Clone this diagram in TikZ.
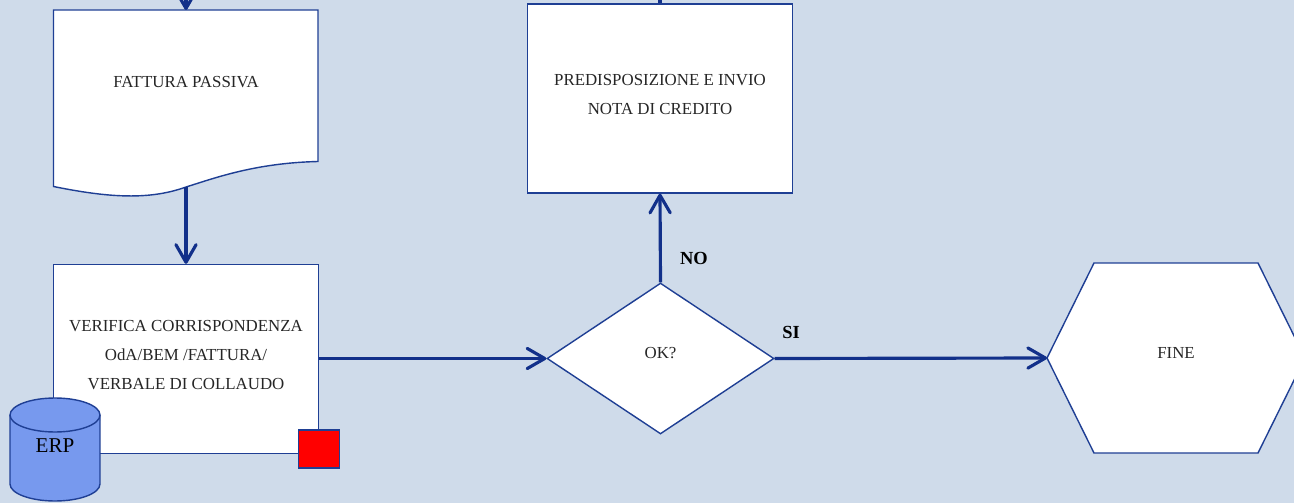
\documentclass[tikz,border=0pt]{standalone}
\usepackage{xcolor}
\usepackage{fontspec}
\setmainfont{Liberation Serif}
\usepackage{tikz}
\usetikzlibrary{shapes.geometric,arrows.meta}
\definecolor{bgblue}{HTML}{CFDBEA}
\definecolor{linkblue}{HTML}{12308A}
\definecolor{edgeblue}{HTML}{1F3F94}
\definecolor{erpblue}{HTML}{7799EE}
\tikzset{
	taskbox/.style={draw=edgeblue, fill=white, line width=0.8pt, minimum width=5.3cm, minimum height=3.78cm, inner sep=0pt},
	tasktext/.style={font=\fontsize{9.6}{16.6}\selectfont, align=center, text=black!85},
	link/.style={draw=linkblue, line width=1.8pt, -{Straight Barb[length=10pt,width=11.5pt,line width=1.8pt,round]}},
	answer/.style={font=\fontsize{10.5}{12}\selectfont\bfseries}
}
\begin{document}
\begin{tikzpicture}[x=0.02cm,y=-0.02cm]
			\useasboundingbox [fill=bgblue] (0,0) rectangle (1294,503);

			\coordinate (fatttop) at (186,10);
			\coordinate (fattbase) at (186,187);
			\coordinate (intop) at (186,-5);
			\coordinate (credtop) at (660,-5);
			\coordinate (fineleft) at (1047,358);

			% left column
			\filldraw [draw=edgeblue, fill=white, line width=0.8pt] (53.5,10) -- (318,10) -- (318,161.5)
				.. controls (255,163) and (215,178) .. (fattbase)
				.. controls (150,200) and (110,198) .. (53.5,186.5) -- cycle;
			\node [tasktext] (fatt) at (186,82) {FATTURA PASSIVA};
			\node [taskbox] (verifica) at (186,359) {};
			\node [tasktext] (verificatext) at (186,355) {VERIFICA CORRISPONDENZA\\OdA/BEM /FATTURA/\\VERBALE DI COLLAUDO};
			\filldraw [draw=edgeblue, fill=erpblue, line width=0.8pt] (10,415) -- (10,484) arc [start angle=180, end angle=360, x radius=0.9cm, y radius=0.34cm] -- (100,415) arc [start angle=0, end angle=180, x radius=0.9cm, y radius=0.34cm] -- cycle;
			\draw [draw=edgeblue, line width=0.8pt] (10,415) arc [start angle=180, end angle=360, x radius=0.9cm, y radius=0.34cm];
			\node [font=\fontsize{12}{14}\selectfont] (erp) at (55,446) {ERP};
			\node [draw=edgeblue, fill=red, line width=0.8pt, minimum width=0.82cm, minimum height=0.76cm, inner sep=0pt] (flag) at (319,449) {};

			% middle column
			\node [taskbox] (credito) at (660,98.5) {};
			\node [tasktext] (creditotext) at (660,94.5) {PREDISPOSIZIONE E INVIO\\NOTA DI CREDITO};
			\node [draw=edgeblue, fill=white, line width=0.8pt, shape=diamond, minimum width=4.54cm, minimum height=3.02cm, inner sep=0pt] (check) at (660.5,358.5) {};
			\node [tasktext] (checktext) at (660.5,353) {OK?};

			% end
			\filldraw [draw=edgeblue, fill=white, line width=0.8pt] (fineleft) -- (1094,263) -- (1258,263) -- (1305,358) -- (1258,453) -- (1094,453) -- cycle;
			\node [tasktext] (fine) at (1176,353) {FINE};

			\draw [link] (intop) -- (fatttop);
			\draw [link] (fattbase) -- (verifica.north);
			\draw [link] (verifica.east |- check.west) -- (check.west);
			\draw [link] (check.north) -- (credito.south);
			\draw [link] (check.east) -- (fineleft);
			\draw [draw=linkblue, line width=1.8pt] (credtop) -- (credito.north);

			\node [answer] (no) at (694,258) {NO};
			\node [answer] (si) at (791,332) {SI};
		\end{tikzpicture}
\end{document}
